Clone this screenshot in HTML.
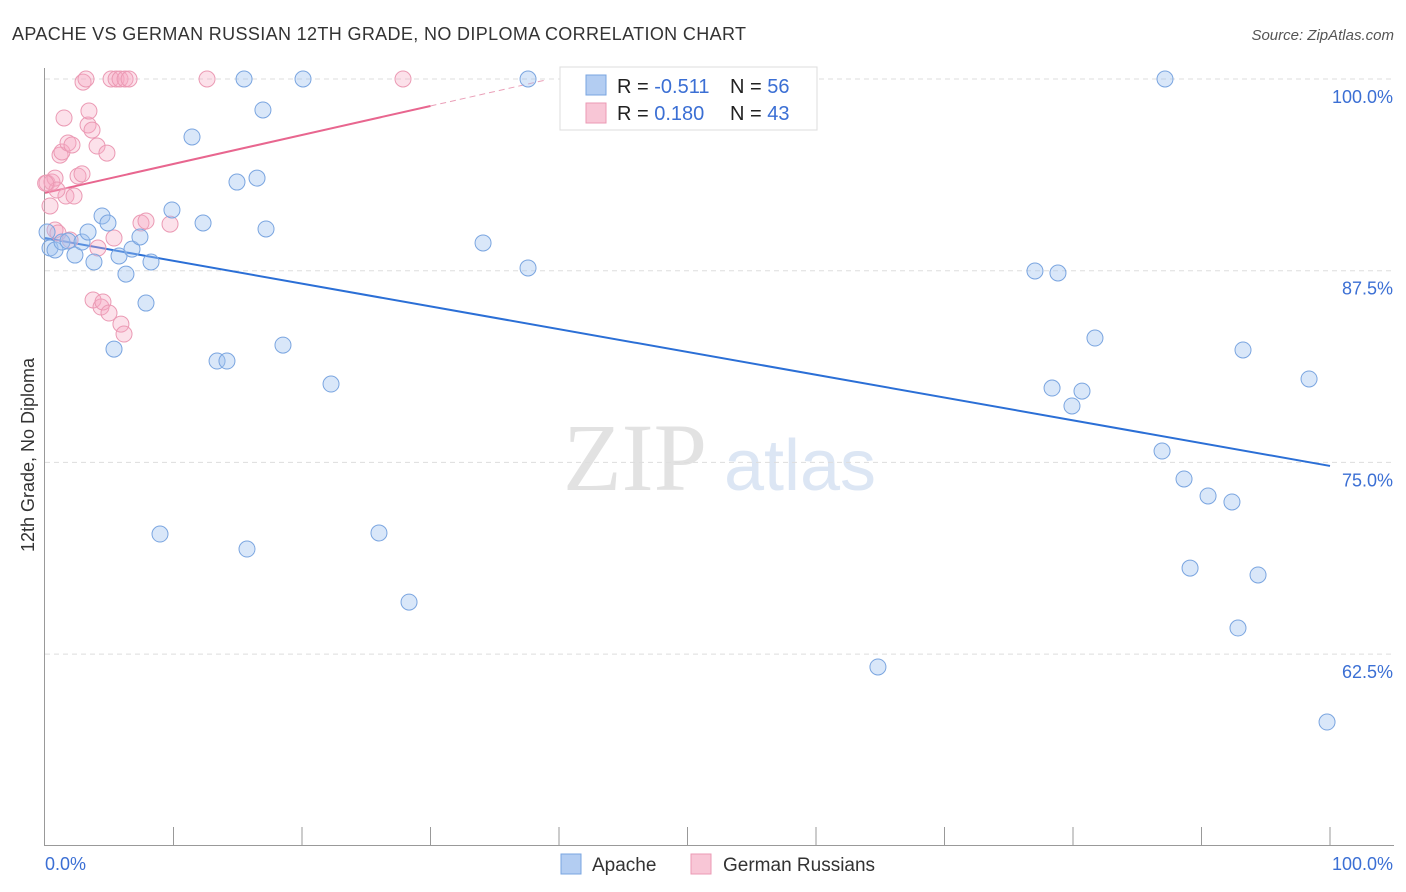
<!DOCTYPE html>
<html><head><meta charset="utf-8"><style>
body{margin:0;background:#fff;font-family:"Liberation Sans",sans-serif;}
svg{display:block}
</style></head><body>
<svg id="chart" width="1406" height="892" xmlns="http://www.w3.org/2000/svg">
<text x="12" y="40" font-size="18" fill="#333" textLength="734">APACHE VS GERMAN RUSSIAN 12TH GRADE, NO DIPLOMA CORRELATION CHART</text>
<text x="1394" y="40" font-size="15" fill="#555" font-style="italic" text-anchor="end">Source: ZipAtlas.com</text>
<text x="34" y="455" font-size="18" fill="#333" text-anchor="middle" transform="rotate(-90 34 455)">12th Grade, No Diploma</text>
<g><text x="635" y="490" font-size="96" fill="#e2e2e2" font-family="Liberation Serif,serif" text-anchor="middle">ZIP</text><text x="800" y="490" font-size="72" fill="#dce6f4" text-anchor="middle">atlas</text></g>
<g id="grid"></g><g id="axes"></g><g id="lines"></g><g id="pts"></g>
<g>
<rect x="560" y="67" width="257" height="63" fill="#fff" stroke="#ddd"/>
<rect x="586" y="75" width="20" height="20" fill="#b3cdf2" stroke="#7aa5e0"/>
<rect x="586" y="103" width="20" height="20" fill="#f8c6d6" stroke="#eb9ab4"/>
<text x="617" y="93" font-size="20" fill="#222">R = <tspan fill="#3b6fd4">-0.511</tspan></text>
<text x="730" y="93" font-size="20" fill="#222">N = <tspan fill="#3b6fd4">56</tspan></text>
<text x="617" y="120" font-size="20" fill="#222">R = <tspan fill="#3b6fd4"> 0.180</tspan></text>
<text x="730" y="120" font-size="20" fill="#222">N = <tspan fill="#3b6fd4">43</tspan></text>
</g>
<g>
<rect x="561" y="854" width="20" height="20" fill="#b3cdf2" stroke="#7aa5e0"/>
<text x="592" y="871" font-size="19" fill="#333">Apache</text>
<rect x="691" y="854" width="20" height="20" fill="#f8c6d6" stroke="#eb9ab4"/>
<text x="723" y="871" font-size="19" fill="#333">German Russians</text>
</g>
</svg>
<script>
const yTicks=[100,87.5,75,62.5];
const yTickLabels=["100.0%","87.5%","75.0%","62.5%"];
const apacheX=[0.39,0.78,1.32,1.79,2.33,2.88,3.35,3.81,4.44,4.90,5.37,5.76,6.30,6.77,7.39,7.86,8.25,8.95,9.88,11.44,12.30,13.39,14.16,14.94,15.49,15.72,16.50,16.96,17.20,18.52,20.08,22.26,25.99,28.33,34.09,37.59,37.59,64.82,77.04,78.37,78.83,79.92,80.70,81.71,86.93,87.16,88.64,89.11,90.51,92.37,92.84,93.23,94.40,98.37,99.77,0.16];
const apacheY=[88.98,88.85,89.37,89.44,88.52,89.37,90.02,88.07,91.07,90.61,82.39,88.46,87.28,88.91,89.70,85.39,88.07,70.33,91.46,96.22,90.61,81.61,81.61,93.28,100,69.35,93.54,97.98,90.22,82.65,100,80.11,70.40,65.89,89.31,87.68,100,61.66,87.48,79.85,87.35,78.68,79.65,83.11,75.74,100,73.92,68.11,72.81,72.42,64.20,82.33,67.66,80.44,58.07,90.02];
const grX=[0.16,0.39,0.54,0.78,1.01,1.17,1.32,1.48,1.63,1.79,1.95,2.10,2.26,2.57,2.88,2.96,3.19,3.35,3.42,3.66,3.74,4.05,4.12,4.36,4.51,4.82,4.98,5.14,5.37,5.53,5.84,5.91,6.15,6.23,6.54,7.47,7.86,9.73,12.61,27.86,0.78,0.93,0.05];
const grY=[93.22,91.72,93.28,90.15,89.96,95.04,95.24,97.46,92.37,95.83,89.50,95.70,92.37,93.67,93.81,99.80,100,97.00,97.91,96.67,85.59,95.63,88.98,85.13,85.46,95.17,84.74,100,89.63,100,100,84.02,83.37,100,100,90.61,90.74,90.54,100,100,93.54,92.76,93.2];
const apacheFit=[89.63,74.77];
const grFit=[92.57,0.189];
const NS="http://www.w3.org/2000/svg";
const sx=v=>45+v*12.85, sy=v=>79+(100-v)*15.336;
function mk(t,a,p){const e=document.createElementNS(NS,t);for(const k in a)e.setAttribute(k,a[k]);document.getElementById(p).appendChild(e);return e;}
yTicks.forEach((t,i)=>{
 const g=mk('line',{x1:45,x2:1394,y1:sy(t),y2:sy(t),stroke:'#ddd','stroke-dasharray':'5,4'},'grid');
 
 
 const l=mk('text',{x:1393,y:sy(t)+24,'font-size':18,fill:'#3b6fd4','text-anchor':'end'},'grid');
 l.textContent=yTickLabels[i];
 
 
});
let ax=mk('line',{x1:44.5,x2:44.5,y1:68,y2:845,stroke:'#999'},'axes');


ax=mk('line',{x1:44,x2:1394,y1:845.5,y2:845.5,stroke:'#999'},'axes');


for(let i=1;i<=10;i++){const t=mk('line',{x1:sx(i*10),x2:sx(i*10),y1:827,y2:845,stroke:'#999'},'axes');
 
 }
let xl=mk('text',{x:45,y:870,'font-size':18,fill:'#3b6fd4'},'axes');xl.textContent='0.0%';


xl=mk('text',{x:1393,y:870,'font-size':18,fill:'#3b6fd4','text-anchor':'end'},'axes');xl.textContent='100.0%';


grX.forEach((x,i)=>{const c=mk('circle',{cx:sx(x),cy:sy(grY[i]),r:8,fill:'rgba(245,170,195,0.35)',stroke:'#eb9ab4','stroke-width':1},'pts');
 
 });
apacheX.forEach((x,i)=>{const c=mk('circle',{cx:sx(x),cy:sy(apacheY[i]),r:8,fill:'rgba(160,195,240,0.4)',stroke:'#7aa5e0','stroke-width':1},'pts');
 
 });
let ln=mk('line',{x1:sx(0),y1:sy(apacheFit[0]),x2:sx(100),y2:sy(apacheFit[1]),stroke:'#2b6fd6','stroke-width':2},'lines');


ln=mk('line',{x1:sx(0),y1:sy(grFit[0]),x2:sx(30),y2:sy(grFit[0]+grFit[1]*30),stroke:'#e8668f','stroke-width':2},'lines');


ln=mk('line',{x1:sx(30),y1:sy(grFit[0]+grFit[1]*30),x2:sx(38.9),y2:sy(grFit[0]+grFit[1]*38.9),stroke:'#eaa0b8','stroke-width':1,'stroke-dasharray':'6,4'},'lines');


</script>
</body></html>
